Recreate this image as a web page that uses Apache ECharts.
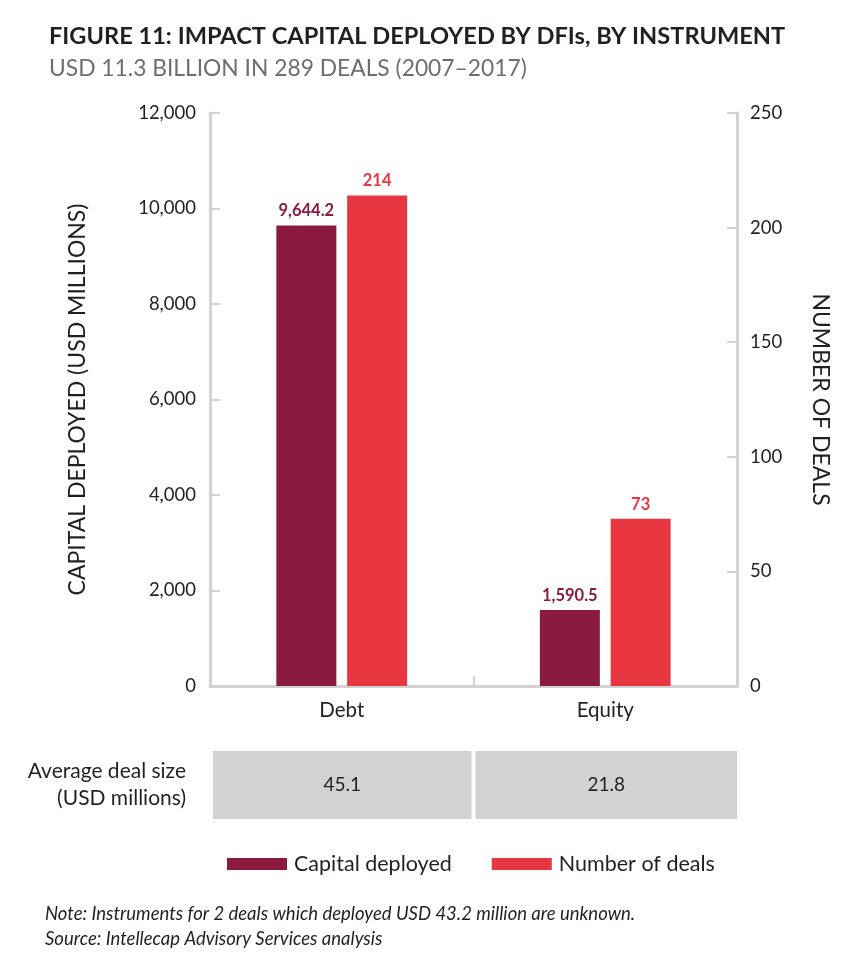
<!DOCTYPE html>
<html>
<head>
<meta charset="utf-8">
<script src="https://cdn.jsdelivr.net/npm/echarts@6/dist/echarts.min.js"></script>
<style>
html,body{margin:0;padding:0;background:#fff;}
#c{width:852px;height:964px;}
</style>
</head>
<body>
<div id="c"></div>
<script>
var categories = ['Debt', 'Equity'];
var capitalDeployed = [9644.2, 1590.5];
var numberOfDeals = [214, 73];
var avgDealSize = ['45.1', '21.8'];
var leftTicks = [0, 2000, 4000, 6000, 8000, 10000, 12000];
var rightTicks = [0, 50, 100, 150, 200, 250];

var FONT = 'Lato';
var C1 = '#8a1a3e';
var C2 = '#e93742';
var AX = '#d2d2d2';
var TXT = '#231f20';

var GL = 210, GR = 115, GT = 113, GB = 278;

var chart = echarts.init(document.getElementById('c'));
var option = {
  animation: false,
  backgroundColor: '#fff',
  textStyle: { fontFamily: FONT },
  title: [
    { text: 'FIGURE 11: IMPACT CAPITAL DEPLOYED BY DFIs, BY INSTRUMENT', left: 44, top: 19,
      textStyle: { fontFamily: FONT, fontWeight: 'bold', fontSize: 23.6, color: TXT } },
    { text: 'USD 11.3 BILLION IN 289 DEALS (2007\u20132017)', left: 44, top: 52,
      textStyle: { fontFamily: FONT, fontWeight: 'normal', fontSize: 22.8, color: '#6d6e71' } }
  ],
  legend: {
    left: 222, top: 848, itemWidth: 60, itemHeight: 12, itemGap: 40,
    icon: 'rect',
    textStyle: { fontFamily: FONT, fontSize: 21.5, color: TXT, padding: [0, 0, 0, 2] },
    data: ['Capital deployed', 'Number of deals']
  },
  grid: { left: GL, right: GR, top: GT, bottom: GB, containLabel: false },
  xAxis: {
    type: 'category', data: categories,
    axisLine: { show: true, lineStyle: { color: AX, width: 3 } },
    axisTick: { show: true, inside: true, length: 10, lineStyle: { color: AX, width: 2 } },
    axisLabel: { fontFamily: FONT, fontSize: 20.5, color: TXT, margin: 14 }
  },
  yAxis: [
    { type: 'value', min: 0, max: 12000, interval: 2000,
      name: 'CAPITAL DEPLOYED (USD MILLIONS)', nameLocation: 'middle', nameGap: 121,
      nameTextStyle: { fontFamily: FONT, fontSize: 23, color: TXT },
      axisLine: { show: true, lineStyle: { color: AX, width: 3 } },
      axisTick: { show: true, inside: true, length: 10, lineStyle: { color: AX, width: 2 } },
      splitLine: { show: false },
      axisLabel: { fontFamily: FONT, fontSize: 18.5, color: TXT, margin: 14,
        formatter: function (v) { return v.toLocaleString('en-US'); } }
    },
    { type: 'value', min: 0, max: 250, interval: 50, position: 'right',
      name: 'NUMBER OF DEALS', nameLocation: 'middle', nameGap: 72, nameRotate: -90,
      nameTextStyle: { fontFamily: FONT, fontSize: 23, color: TXT },
      axisLine: { show: true, lineStyle: { color: AX, width: 3 } },
      axisTick: { show: true, inside: true, length: 10, lineStyle: { color: AX, width: 2 } },
      splitLine: { show: false },
      axisLabel: { fontFamily: FONT, fontSize: 18.5, color: TXT, margin: 13 }
    }
  ],
  series: [
    { name: 'Capital deployed', type: 'bar', yAxisIndex: 0, data: capitalDeployed,
      barWidth: 60, barGap: '18%', itemStyle: { color: C1 },
      label: { show: true, position: 'top', distance: 6, fontFamily: FONT, fontWeight: 'bold', fontSize: 16.5, color: C1,
        formatter: function (p) { return p.value.toLocaleString('en-US', { minimumFractionDigits: 1 }); } } },
    { name: 'Number of deals', type: 'bar', yAxisIndex: 1, data: numberOfDeals,
      barWidth: 60, barGap: '18%', itemStyle: { color: C2 },
      label: { show: true, position: 'top', distance: 6, fontFamily: FONT, fontWeight: 'bold', fontSize: 16.5, color: C2 } }
  ]
};
chart.setOption(option);

// table of average deal sizes under the categories
var W = 852;
var plotRight = W - GR;
var bounds = [GL + 3];
for (var i = 1; i < categories.length; i++) {
  var a = chart.convertToPixel({ xAxisIndex: 0 }, categories[i - 1]);
  var b = chart.convertToPixel({ xAxisIndex: 0 }, categories[i]);
  bounds.push((a + b) / 2);
}
bounds.push(plotRight);
var rowTop = 751, rowH = 68;
var els = [];
for (var j = 0; j < categories.length; j++) {
  var x0 = bounds[j] + (j > 0 ? 2 : 0);
  var x1 = bounds[j + 1] - (j < categories.length - 1 ? 2 : 0);
  els.push({ type: 'rect', shape: { x: x0, y: rowTop, width: x1 - x0, height: rowH }, style: { fill: '#d1d2d4' } });
  els.push({ type: 'text', x: (x0 + x1) / 2, y: rowTop + rowH / 2,
    style: { text: avgDealSize[j], fill: TXT, font: '19px ' + FONT, textAlign: 'center', textVerticalAlign: 'middle' } });
}
els.push({ type: 'text', x: 186, y: rowTop + rowH / 2,
  style: { text: 'Average deal size\n(USD millions)', fill: TXT, font: '21px ' + FONT, lineHeight: 27,
    textAlign: 'right', textVerticalAlign: 'middle' } });
els.push({ type: 'text', x: 45, y: 902,
  style: { text: 'Note: Instruments for 2 deals which deployed USD 43.2 million are unknown.\nSource: Intellecap Advisory Services analysis',
    fill: TXT, font: 'italic 18.5px ' + FONT, lineHeight: 25 } });
chart.setOption({ graphic: { elements: els } });
</script>
</body>
</html>
